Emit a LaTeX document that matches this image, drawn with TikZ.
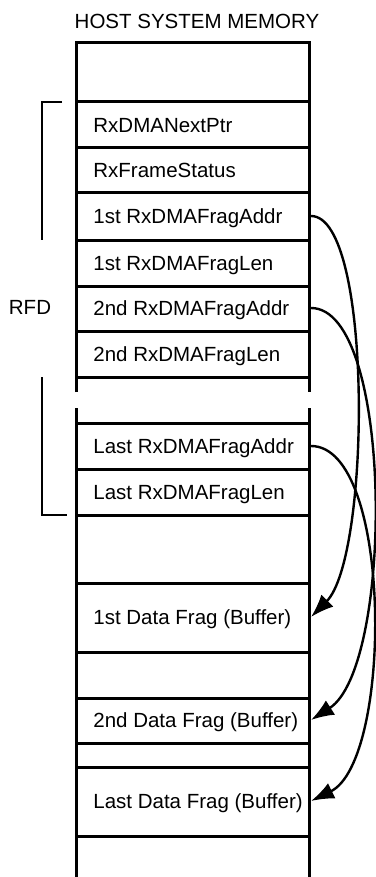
\documentclass[tikz,border=0pt]{standalone}
\usepackage{fontspec}
\setmainfont{Liberation Sans}
\usetikzlibrary{arrows.meta}
\begin{document}
\begin{tikzpicture}[x=0.5pt, y=-0.5pt, font=\fontsize{10.25pt}{12pt}\selectfont]

    % styles
    \tikzstyle{field}=[anchor=west, inner sep=0pt, text height=0.72em, text depth=0pt]
    \tikzstyle{wall}=[line width=1.5pt]
    \tikzstyle{brace}=[line width=1.1pt]
    \tikzstyle{pointer}=[-{Latex[length=11.5pt,width=8.5pt]}, line width=1.2pt]

    \useasboundingbox (0,0) rectangle (375,877);

    %======================= MEMORY COLUMN =======================
    \node (title) at (197,21) {HOST SYSTEM MEMORY};

    % side walls, broken between the RFD fields and the last fragment fields
    \draw[wall] (76,392) -- (76,43) -- (309,43) -- (309,392);
    \draw[wall] (76,408) -- (76,877);
    \draw[wall] (309,408) -- (309,877);

    % row separators
    \foreach \y in {102,148,193,240,286,331,377,423,469,515,583,652,698,743,767,836}
      \draw[wall] (76,\y) -- (309,\y);

    % right edge, where the pointers leave and arrive
    \coordinate (rim) at (311,0);

    %======================= RFD FIELDS =======================
    \node[field] (next)  at (93,125) {RxDMANextPtr};
    \node[field] (stat)  at (93,170) {RxFrameStatus};
    \node[field] (addr1) at (93,216) {1st RxDMAFragAddr};
    \node[field] (len1)  at (93,263) {1st RxDMAFragLen};
    \node[field] (addr2) at (93,308) {2nd RxDMAFragAddr};
    \node[field] (len2)  at (93,354) {2nd RxDMAFragLen};
    \node[field] (addrN) at (93,446) {Last RxDMAFragAddr};
    \node[field] (lenN)  at (93,492) {Last RxDMAFragLen};

    % bracket and label
    \draw[brace] (62,102) -- (42,102) -- (42,240);
    \draw[brace] (42,377) -- (42,515) -- (67,515);
    \node (rfd) at (30,307) {RFD};

    %======================= DATA BUFFERS =======================
    \node[field] (buf1) at (93,617) {1st Data Frag (Buffer)};
    \node[field] (buf2) at (93,720) {2nd Data Frag (Buffer)};
    \node[field] (bufN) at (93,801) {Last Data Frag (Buffer)};

    % fragment address -> buffer
    \draw[pointer] (addr1 -| rim) .. controls +(62,0) and +(60,-60) .. (buf1 -| rim);
    \draw[pointer] (addr2 -| rim) .. controls +(83,0) and +(83,-53) .. (buf2 -| rim);
    \draw[pointer] (addrN -| rim) .. controls +(82,0) and +(82,-40) .. (bufN -| rim);

\end{tikzpicture}
\end{document}
